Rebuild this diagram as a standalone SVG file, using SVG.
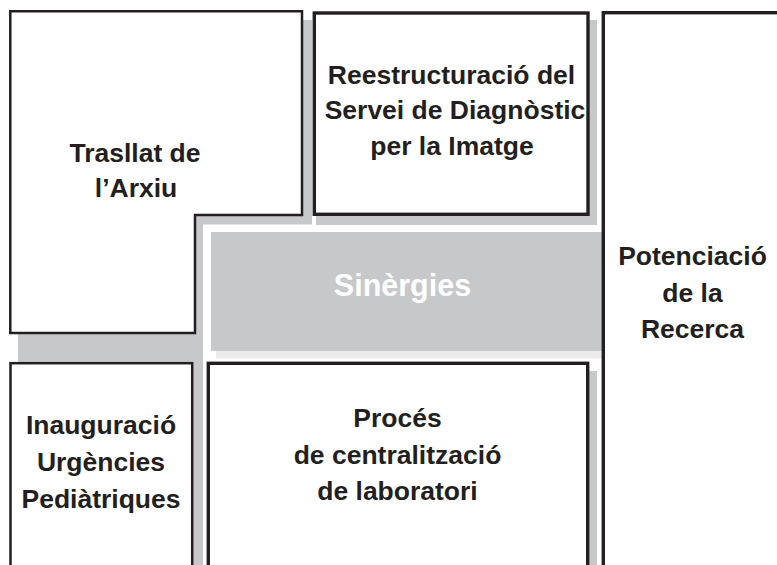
<svg xmlns="http://www.w3.org/2000/svg" width="777" height="565" viewBox="0 0 777 565">
<style>
  .shadow { fill: #c7c8ca; }
  .box { fill: #ffffff; stroke: #231f20; stroke-width: 2.5; }
  .box-thick { fill: #ffffff; stroke: #231f20; stroke-width: 3.4; }
  .lbl { font-family: "Liberation Sans", Arial, sans-serif; font-weight: bold; font-size: 26.5px; fill: #231f20; text-anchor: middle; }
  .lbl-white { font-family: "Liberation Sans", Arial, sans-serif; font-weight: bold; font-size: 30.5px; fill: #ffffff; text-anchor: middle; }
</style>
<rect x="0" y="0" width="777" height="565" fill="#ffffff"/>

<g id="shadows">
  <polygon class="shadow" points="18,20 312,20 312,224.5 203,224.5 203,565 18,565"/>
  <rect class="shadow" x="316" y="20" width="281" height="205"/>
  <rect class="shadow" x="216" y="371" width="381" height="200"/>
</g>

<g id="sinergies">
  <rect x="216" y="351" width="387" height="7.5" fill="#ebebeb"/>
  <rect class="shadow" x="211" y="232" width="392" height="119"/>
  <text class="lbl-white" x="402.5" y="296">Sinèrgies</text>
</g>

<g id="trasllat">
  <polygon class="box" points="10.3,11.3 302,11.3 302,215 195,215 195,333 10.3,333"/>
  <text class="lbl" x="135" y="161.7">Trasllat de</text>
  <text class="lbl" x="136" y="196.7">l’Arxiu</text>
</g>

<g id="reestructuracio">
  <rect class="box-thick" x="314.3" y="13" width="273.7" height="201.3"/>
  <text class="lbl" x="451.5" y="83.5">Reestructuració del</text>
  <text class="lbl" x="455" y="119">Servei de Diagnòstic</text>
  <text class="lbl" x="452" y="154.5">per la Imatge</text>
</g>

<g id="potenciacio">
  <rect class="box-thick" x="603.3" y="12.7" width="200" height="570"/>
  <text class="lbl" x="692.5" y="265">Potenciació</text>
  <text class="lbl" x="692.5" y="301.7">de la</text>
  <text class="lbl" x="692.5" y="338">Recerca</text>
</g>

<g id="inauguracio">
  <rect class="box" x="10.5" y="363.2" width="181.7" height="220"/>
  <text class="lbl" x="101" y="433.5">Inauguració</text>
  <text class="lbl" x="101" y="471">Urgències</text>
  <text class="lbl" x="101" y="508">Pediàtriques</text>
</g>

<g id="proces">
  <rect class="box-thick" x="208.3" y="363.3" width="379.4" height="220"/>
  <text class="lbl" x="397.5" y="427">Procés</text>
  <text class="lbl" x="397.5" y="463.5">de centralització</text>
  <text class="lbl" x="397.5" y="500">de laboratori</text>
</g>

<g id="connectors"/>
</svg>
